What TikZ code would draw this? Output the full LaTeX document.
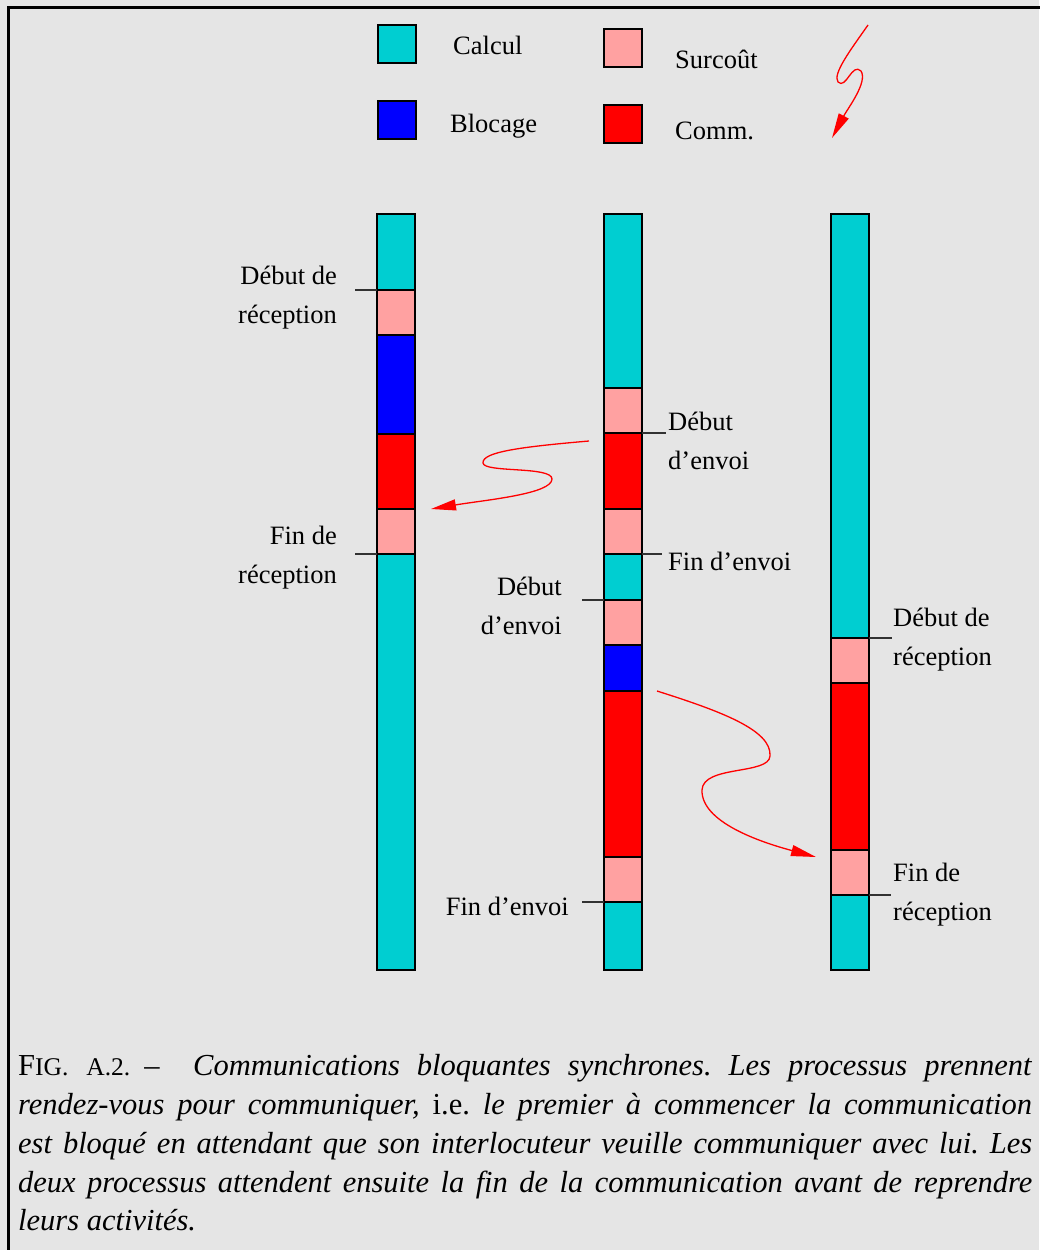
\documentclass[tikz,border=0pt]{standalone}
\usepackage{fontspec}
\setmainfont{Liberation Serif}
\usetikzlibrary{arrows.meta}
\definecolor{calc}{RGB}{0,206,209}
\definecolor{surc}{RGB}{255,161,161}
\definecolor{bgc}{RGB}{229,229,229}
\definecolor{tickc}{RGB}{50,50,50}
\newcommand{\capline}[1]{\makebox[1014pt][s]{#1}}
\frenchspacing
\begin{document}
\begin{tikzpicture}[x=1pt,y=-1pt,
  seg/.style={draw=black, line width=1.8pt, minimum width=38pt, inner sep=0pt, outer sep=0pt, anchor=north},
  lab/.style={inner sep=0pt, font=\fontsize{26.5}{39}\selectfont},
  capl/.style={inner sep=0pt, anchor=base west, font=\fontsize{30.5}{39}\selectfont},
  tickline/.style={draw=tickc, line width=1.8pt},
  flow/.style={draw=red, line width=1.3pt, -{Triangle[length=25pt,width=11pt]}}]
\fill[bgc] (0,0) rectangle (1039,1250);
\useasboundingbox (0,0) rectangle (1039,1250);
\draw[line width=3pt] (8,1252) -- (8,7) -- (1041,7);

% legend
\node[seg, fill=calc, minimum height=38pt] (lcalc) at (397,25) {};
\node[lab, anchor=west] (tcalc) at (453,45) {Calcul};
\node[seg, fill=blue, minimum height=38pt] (lbloc) at (397,101) {};
\node[lab, anchor=west] (tbloc) at (450,126) {Blocage};
\node[seg, fill=surc, minimum height=38pt] (lsurc) at (623,29) {};
\node[lab, anchor=west] (tsurc) at (675,59) {Surcoût};
\node[seg, fill=red, minimum height=38pt] (lcomm) at (623,105) {};
\node[lab, anchor=west] (tcomm) at (675,131) {Comm.};
\coordinate (lga) at (868,25);
\coordinate (lgb) at (832,138);
\draw[flow] (lga) .. controls (852,48) and (832,74) .. (838,82)
  .. controls (846,90) and (852,62) .. (861,71)
  .. controls (868,82) and (848,108) .. (lgb);

% column 1
\node[seg, fill=calc, minimum height=76pt] (a1) at (396,214) {};
\node[seg, fill=surc, minimum height=45pt] (a2) at (a1.south) {};
\node[seg, fill=blue, minimum height=99pt] (a3) at (a2.south) {};
\node[seg, fill=red,  minimum height=75pt] (a4) at (a3.south) {};
\node[seg, fill=surc, minimum height=45pt] (a5) at (a4.south) {};
\node[seg, fill=calc, minimum height=416pt] (a6) at (a5.south) {};

% column 2
\node[seg, fill=calc, minimum height=174pt] (b1) at (623,214) {};
\node[seg, fill=surc, minimum height=45pt] (b2) at (b1.south) {};
\node[seg, fill=red,  minimum height=76pt] (b3) at (b2.south) {};
\node[seg, fill=surc, minimum height=45pt] (b4) at (b3.south) {};
\node[seg, fill=calc, minimum height=46pt] (b5) at (b4.south) {};
\node[seg, fill=surc, minimum height=45pt] (b6) at (b5.south) {};
\node[seg, fill=blue, minimum height=46pt] (b7) at (b6.south) {};
\node[seg, fill=red,  minimum height=166pt] (b8) at (b7.south) {};
\node[seg, fill=surc, minimum height=45pt] (b9) at (b8.south) {};
\node[seg, fill=calc, minimum height=68pt] (b10) at (b9.south) {};

% column 3
\node[seg, fill=calc, minimum height=424pt] (c1) at (850,214) {};
\node[seg, fill=surc, minimum height=45pt] (c2) at (c1.south) {};
\node[seg, fill=red,  minimum height=167pt] (c3) at (c2.south) {};
\node[seg, fill=surc, minimum height=45pt] (c4) at (c3.south) {};
\node[seg, fill=calc, minimum height=75pt] (c5) at (c4.south) {};

% labels and ticks
\node[lab, align=right, anchor=east] (la1) at (337,298) {Début de\\réception};
\coordinate (ta1) at (355,290);
\draw[tickline] (a2.north west) -- (ta1);
\node[lab, align=right, anchor=east] (la2) at (337,558) {Fin de\\réception};
\coordinate (ta2) at (355,554);
\draw[tickline] (a6.north west) -- (ta2);

\node[lab, align=left, anchor=west] (lb1) at (668,441) {Début\\d’envoi};
\coordinate (tb1) at (666,433);
\draw[tickline] (b3.north east) -- (tb1);
\node[lab, anchor=west] (lb2) at (668,561) {Fin d’envoi};
\coordinate (tb2) at (662,554);
\draw[tickline] (b5.north east) -- (tb2);
\node[lab, align=right, anchor=east] (lb3) at (562,606) {Début\\d’envoi};
\coordinate (tb3) at (582,600);
\draw[tickline] (b6.north west) -- (tb3);
\node[lab, anchor=east] (lb4) at (569,906) {Fin d’envoi};
\coordinate (tb4) at (582,902);
\draw[tickline] (b10.north west) -- (tb4);

\node[lab, align=left, anchor=west] (lc1) at (893,640) {Début de\\réception};
\coordinate (tc1) at (892,638);
\draw[tickline] (c2.north east) -- (tc1);
\node[lab, align=left, anchor=west] (lc2) at (893,895) {Fin de\\réception};
\coordinate (tc2) at (891,895);
\draw[tickline] (c5.north east) -- (tc2);

% messages
\coordinate (m1s) at (589,441);
\coordinate (m1e) at (431,509);
\draw[flow] (m1s) .. controls (520,447) and (482,452) .. (483,463)
  .. controls (484,473) and (552,466) .. (552,479)
  .. controls (552,494) and (485,500) .. (m1e);
\coordinate (m2s) at (657,691);
\coordinate (m2e) at (816,857);
\draw[flow] (m2s) .. controls (720,711) and (772,730) .. (770,756)
  .. controls (769,775) and (703,765) .. (702,790)
  .. controls (701,822) and (760,842) .. (m2e);

% caption
\node[capl] (cap0) at (18,1075) {F{\fontsize{25.5}{39}\selectfont IG.}\hspace{18pt}{\fontsize{25.5}{39}\selectfont A.2.}\hspace{14pt}–};
\node[capl] (cap1) at (193,1075) {\makebox[839pt][s]{\textit{Communications bloquantes synchrones. Les processus prennent}}};
\node[capl] (cap2) at (18,1114) {\capline{\textit{rendez-vous pour communiquer,} i.e. \textit{le premier à commencer la communication}}};
\node[capl] (cap3) at (18,1153) {\capline{\textit{est bloqué en attendant que son interlocuteur veuille communiquer avec lui. Les}}};
\node[capl] (cap4) at (18,1192) {\capline{\textit{deux processus attendent ensuite la fin de la communication avant de reprendre}}};
\node[capl] (cap5) at (18,1230) {\textit{leurs activités.}};
\end{tikzpicture}
\end{document}
